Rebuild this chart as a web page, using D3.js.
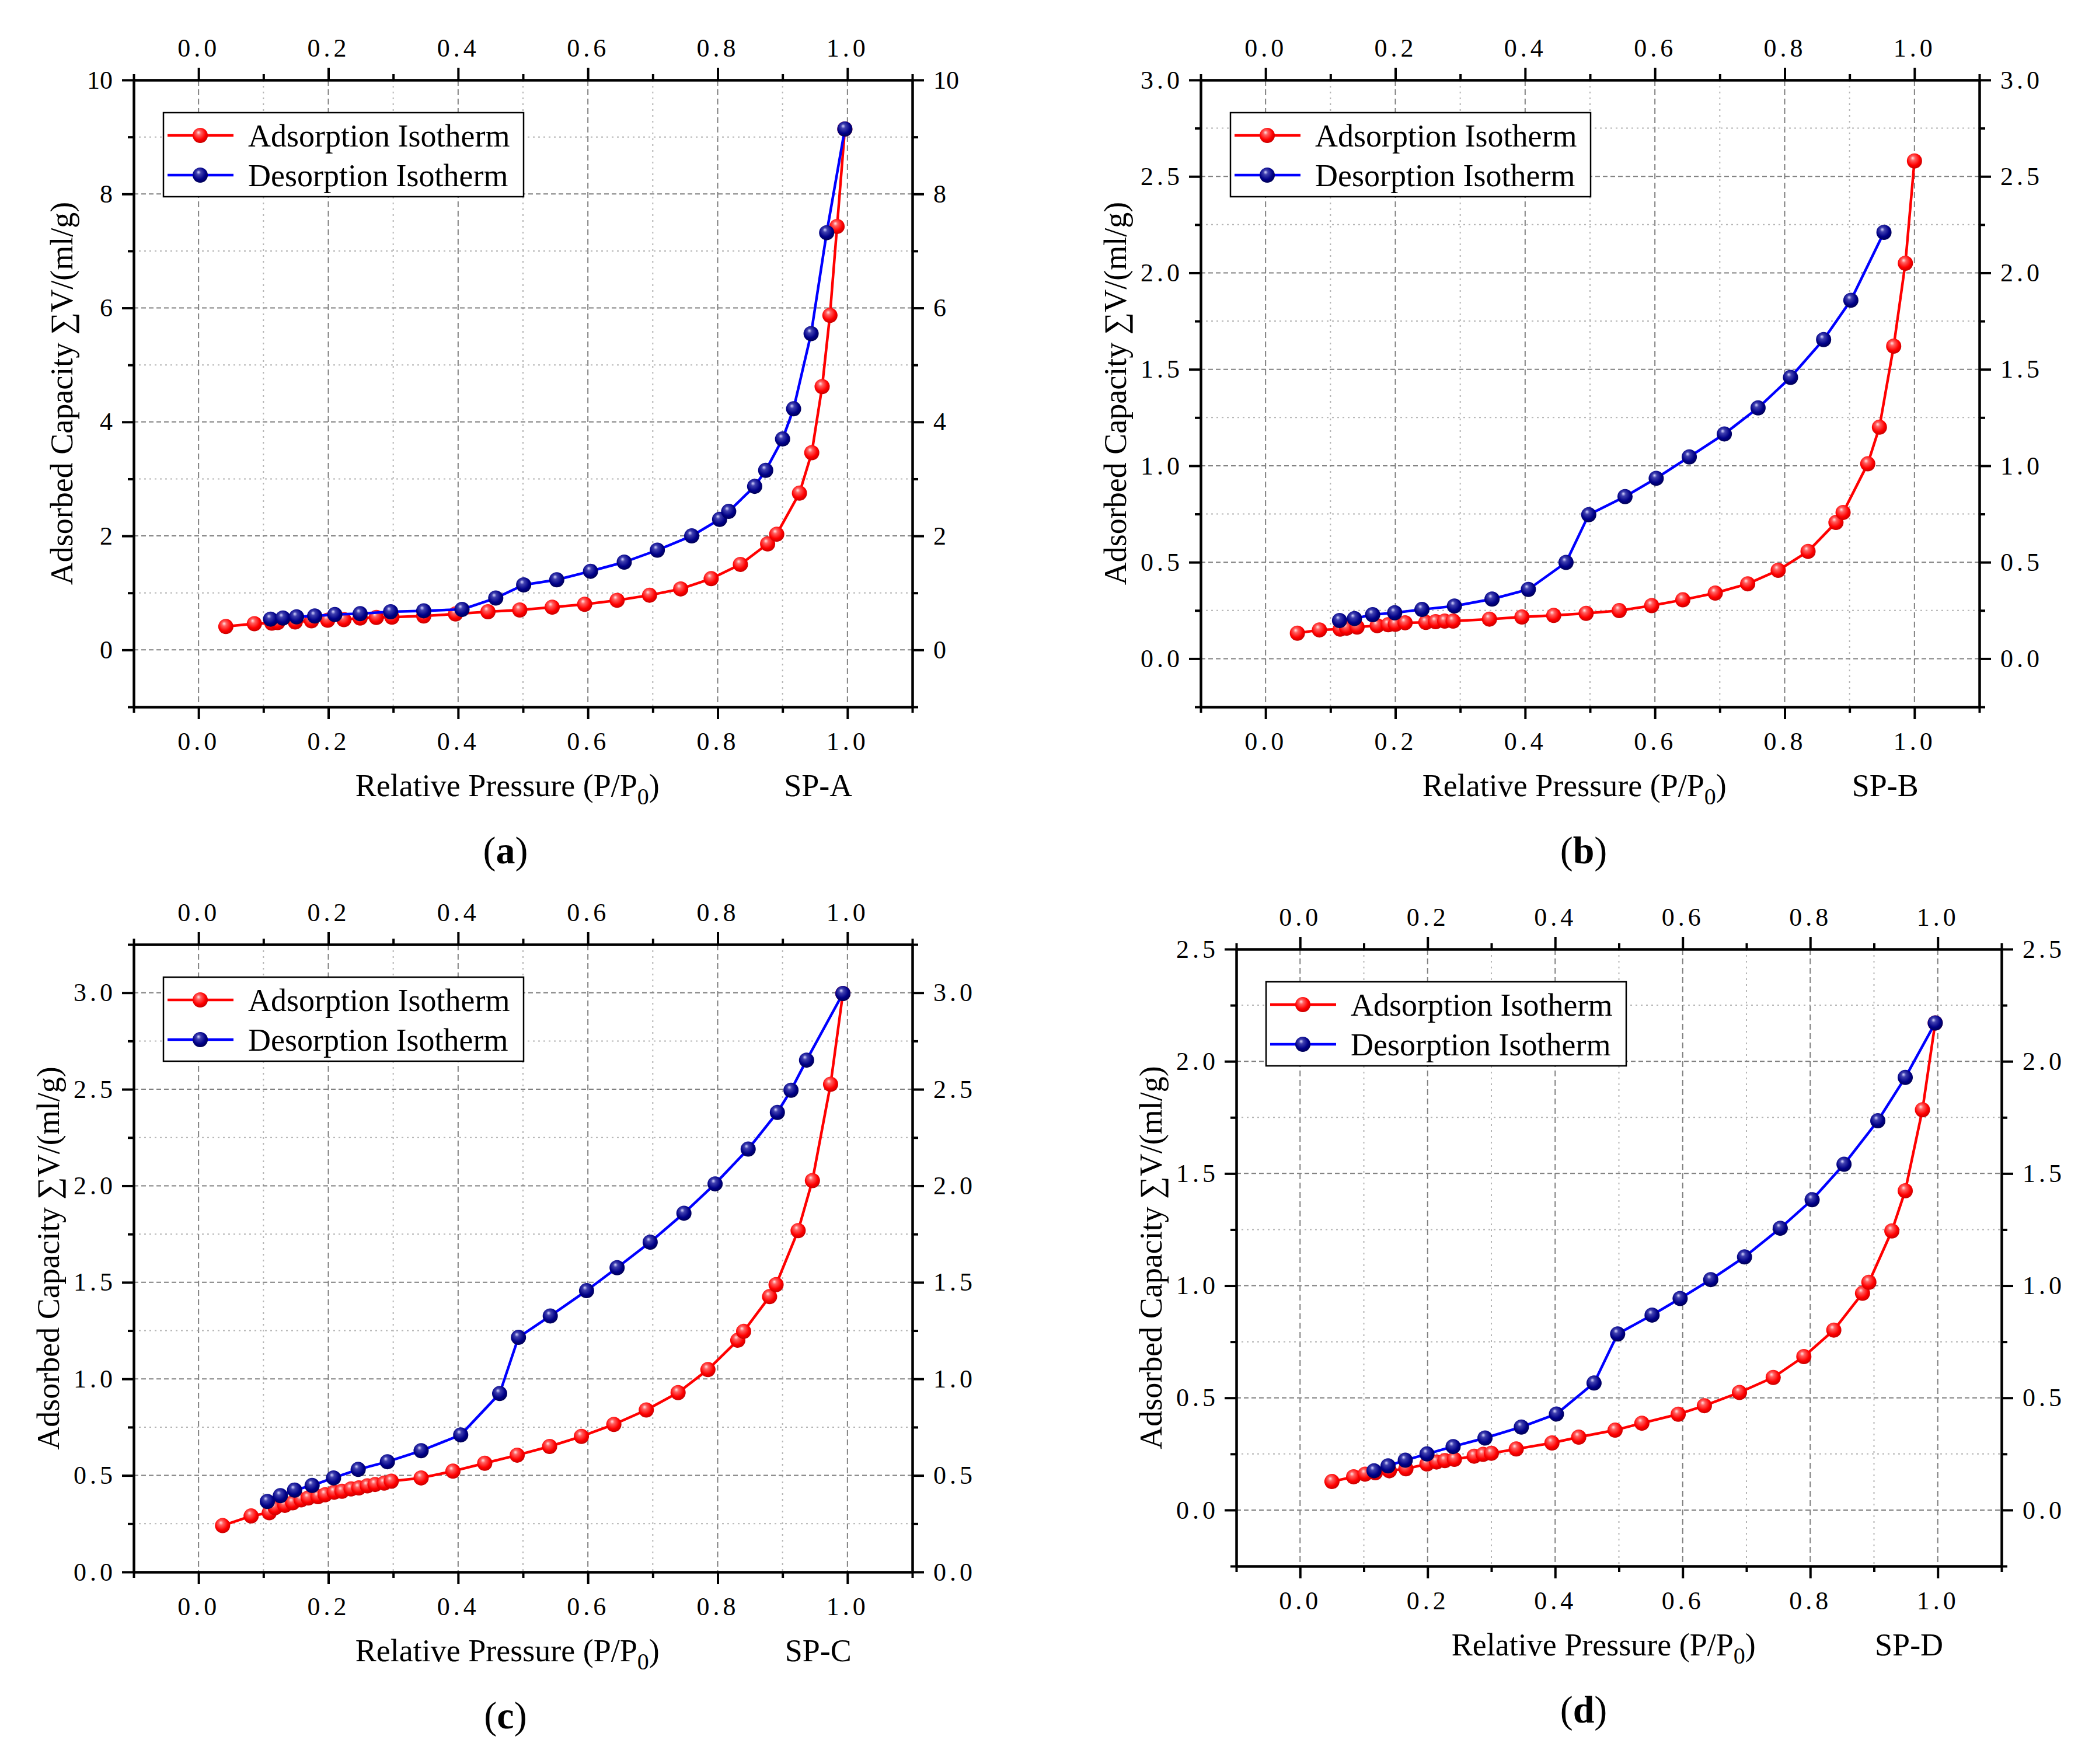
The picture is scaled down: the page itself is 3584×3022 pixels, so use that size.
<!DOCTYPE html>
<html>
<head>
<meta charset="utf-8">
<script src="https://cdn.jsdelivr.net/npm/d3@7"></script>
<style>
  body { margin: 0; background: #fff; }
  text { font-family: "Liberation Serif", "Times New Roman", serif; fill: #000; }
  .axis path, .axis line { stroke: #000; stroke-width: 4; }
</style>
</head>
<body>
<svg id="chart"></svg>
<script>
//************************************************************************
// page size
//************************************************************************
var svgWidth = 3584;
var svgHeight = 3022;

//************************************************************************
// tick values and labels
//************************************************************************
var xMajor = [0, 0.2, 0.4, 0.6, 0.8, 1.0];
var xMinor = [-0.1, 0.1, 0.3, 0.5, 0.7, 0.9, 1.1];

var yMajorA = [0, 2, 4, 6, 8, 10];
var yMinorA = [-1, 1, 3, 5, 7, 9];
var yMajorB = [0, 0.5, 1.0, 1.5, 2.0, 2.5, 3.0];
var yMinorB = [-0.25, 0.25, 0.75, 1.25, 1.75, 2.25, 2.75];
var yMajorC = [0, 0.5, 1.0, 1.5, 2.0, 2.5, 3.0];
var yMinorC = [0.25, 0.75, 1.25, 1.75, 2.25, 2.75, 3.25];
var yMajorD = [0, 0.5, 1.0, 1.5, 2.0, 2.5];
var yMinorD = [-0.25, 0.25, 0.75, 1.25, 1.75, 2.25];

var seriesNames = ["Adsorption Isotherm", "Desorption Isotherm"];
var sampleNames = ["SP-A", "SP-B", "SP-C", "SP-D"];
var captions = ["a", "b", "c", "d"];

//************************************************************************
// data: relative pressure (x) and volume (y)
//************************************************************************
// SP-A
var adsXA = [0.042, 0.086, 0.113, 0.122, 0.149, 0.174, 0.199, 0.224, 0.249, 0.274, 0.298, 0.347, 0.396, 0.446, 0.495,
             0.545, 0.595, 0.645, 0.695, 0.743, 0.790, 0.835, 0.877, 0.891, 0.926, 0.945, 0.961, 0.973, 0.984, 0.996];
var adsYA = [0.41, 0.46, 0.47, 0.48, 0.49, 0.51, 0.52, 0.53, 0.56, 0.57, 0.575, 0.595, 0.63, 0.67, 0.70,
             0.75, 0.80, 0.87, 0.96, 1.07, 1.25, 1.50, 1.86, 2.03, 2.75, 3.46, 4.62, 5.87, 7.43, 9.14];
var desXA = [0.111, 0.130, 0.151, 0.179, 0.210, 0.249, 0.296, 0.347, 0.406, 0.458, 0.501, 0.552, 0.604, 0.656, 0.707,
             0.760, 0.803, 0.817, 0.857, 0.874, 0.900, 0.917, 0.944, 0.968, 0.996];
var desYA = [0.54, 0.56, 0.58, 0.595, 0.62, 0.635, 0.67, 0.686, 0.71, 0.91, 1.14, 1.23, 1.38, 1.54, 1.75,
             2.00, 2.29, 2.43, 2.87, 3.15, 3.70, 4.23, 5.55, 7.32, 9.14];

// SP-B
var adsXB = [0.049, 0.083, 0.115, 0.125, 0.141, 0.172, 0.189, 0.200, 0.215, 0.247, 0.262, 0.276, 0.289, 0.345, 0.395,
             0.444, 0.494, 0.545, 0.595, 0.643, 0.693, 0.743, 0.790, 0.836, 0.879, 0.890, 0.928, 0.946, 0.968, 0.986, 1.000];
var adsYB = [0.132, 0.149, 0.153, 0.158, 0.164, 0.171, 0.176, 0.178, 0.186, 0.188, 0.192, 0.195, 0.195, 0.205, 0.216,
             0.224, 0.235, 0.249, 0.275, 0.305, 0.340, 0.388, 0.458, 0.556, 0.706, 0.758, 1.01, 1.20, 1.62, 2.05, 2.58];
var desXB = [0.114, 0.137, 0.165, 0.199, 0.241, 0.291, 0.349, 0.405, 0.463, 0.498, 0.554, 0.602, 0.653, 0.707, 0.759,
             0.809, 0.860, 0.902, 0.953];
var desYB = [0.198, 0.208, 0.228, 0.238, 0.255, 0.273, 0.309, 0.359, 0.499, 0.746, 0.840, 0.935, 1.046, 1.165, 1.300,
             1.458, 1.654, 1.858, 2.21];

// SP-C
var adsXC = [0.037, 0.081, 0.109, 0.118, 0.133, 0.145, 0.158, 0.169, 0.184, 0.195, 0.209, 0.221, 0.235, 0.247, 0.260,
             0.272, 0.286, 0.297, 0.343, 0.392, 0.441, 0.491, 0.541, 0.590, 0.640, 0.690, 0.739, 0.785, 0.831, 0.840,
             0.880, 0.890, 0.924, 0.946, 0.974, 0.993];
var adsYC = [0.240, 0.290, 0.307, 0.333, 0.345, 0.358, 0.373, 0.383, 0.390, 0.400, 0.413, 0.418, 0.430, 0.435, 0.446,
             0.453, 0.460, 0.470, 0.487, 0.522, 0.563, 0.605, 0.650, 0.702, 0.764, 0.839, 0.929, 1.048, 1.200, 1.246,
             1.426, 1.488, 1.768, 2.027, 2.526, 2.996];
var desXC = [0.106, 0.126, 0.148, 0.175, 0.208, 0.246, 0.291, 0.343, 0.404, 0.464, 0.493, 0.542, 0.598, 0.645, 0.696,
             0.748, 0.796, 0.847, 0.892, 0.913, 0.937, 0.993];
var desYC = [0.365, 0.395, 0.424, 0.448, 0.487, 0.531, 0.571, 0.628, 0.710, 0.924, 1.215, 1.326, 1.457, 1.576, 1.708,
             1.858, 2.010, 2.190, 2.380, 2.495, 2.651, 2.996];

// SP-D
var adsXD = [0.050, 0.084, 0.102, 0.118, 0.140, 0.166, 0.199, 0.214, 0.227, 0.242, 0.273, 0.287, 0.300, 0.339, 0.395,
             0.437, 0.494, 0.536, 0.593, 0.634, 0.689, 0.742, 0.790, 0.837, 0.882, 0.892, 0.928, 0.949, 0.976, 0.996];
var adsYD = [0.127, 0.148, 0.160, 0.166, 0.175, 0.184, 0.205, 0.214, 0.220, 0.226, 0.240, 0.248, 0.253, 0.272, 0.299,
             0.325, 0.356, 0.387, 0.427, 0.465, 0.524, 0.591, 0.684, 0.802, 0.966, 1.015, 1.244, 1.423, 1.784, 2.171];
var desXD = [0.116, 0.138, 0.165, 0.199, 0.240, 0.290, 0.347, 0.402, 0.461, 0.498, 0.552, 0.596, 0.644, 0.697, 0.753,
             0.803, 0.853, 0.906, 0.949, 0.996];
var desYD = [0.175, 0.197, 0.222, 0.250, 0.283, 0.321, 0.370, 0.428, 0.566, 0.785, 0.869, 0.943, 1.027, 1.128, 1.256,
             1.383, 1.541, 1.735, 1.928, 2.171];

//************************************************************************
// panel layout
//************************************************************************
var panels = [
  { left: 229,  top: 137,  width: 1334, height: 1074, yDomain: [-1, 10],    yMajor: yMajorA, yMinor: yMinorA,
    yFormat: d3.format("d"),   ads: d3.zip(adsXA, adsYA), des: d3.zip(desXA, desYA), sample: sampleNames[0], caption: captions[0], capX: 866 },
  { left: 2057, top: 137,  width: 1334, height: 1074, yDomain: [-0.25, 3.0], yMajor: yMajorB, yMinor: yMinorB,
    yFormat: d3.format(".1f"), ads: d3.zip(adsXB, adsYB), des: d3.zip(desXB, desYB), sample: sampleNames[1], caption: captions[1], capX: 2713 },
  { left: 229,  top: 1618, width: 1334, height: 1075, yDomain: [0, 3.25],    yMajor: yMajorC, yMinor: yMinorC,
    yFormat: d3.format(".1f"), ads: d3.zip(adsXC, adsYC), des: d3.zip(desXC, desYC), sample: sampleNames[2], caption: captions[2], capX: 866 },
  { left: 2118, top: 1626, width: 1311, height: 1057, yDomain: [-0.25, 2.5], yMajor: yMajorD, yMinor: yMinorD,
    yFormat: d3.format(".1f"), ads: d3.zip(adsXD, adsYD), des: d3.zip(desXD, desYD), sample: sampleNames[3], caption: captions[3], capX: 2713 }
];

var seriesStyle = [
  { line: "#ff0000", fill: "url(#ballRed)" },
  { line: "#0000ff", fill: "url(#ballNavy)" }
];

//************************************************************************
// create svg element
//************************************************************************
var svg = d3.select("#chart")
  .attr("width", svgWidth)
  .attr("height", svgHeight)
  .attr("viewBox", `0 0 ${svgWidth} ${svgHeight}`);

svg.append("rect").attr("width", svgWidth).attr("height", svgHeight).attr("fill", "#fff");

// shaded ball markers
var defs = svg.append("defs");
function ballGradient(id, c0, c1, c2, c3) {
  var gr = defs.append("radialGradient").attr("id", id)
    .attr("cx", "45%").attr("cy", "40%").attr("r", "60%")
    .attr("fx", "38%").attr("fy", "30%");
  gr.append("stop").attr("offset", "0%").attr("stop-color", c0);
  gr.append("stop").attr("offset", "25%").attr("stop-color", c1);
  gr.append("stop").attr("offset", "70%").attr("stop-color", c2);
  gr.append("stop").attr("offset", "100%").attr("stop-color", c3);
}
ballGradient("ballRed", "#ffe6e6", "#ff6060", "#ff0000", "#c80000");
ballGradient("ballNavy", "#d8d8ff", "#4040b0", "#000088", "#000055");

var fmtX = d3.format(".1f");
var tickFont = 44;
var labelFont = 54;
var markerR = 13;

function styleTicks(sel, spaced) {
  sel.selectAll("text")
    .style("font-size", tickFont + "px")
    .style("letter-spacing", spaced ? "6px" : "0px");
}

//************************************************************************
// draw one panel
//************************************************************************
function drawPanel(p) {
  var g = svg.append("g").attr("transform", `translate(${p.left}, ${p.top})`);

  var x = d3.scaleLinear().domain([-0.1, 1.1]).range([0, p.width]);
  var y = d3.scaleLinear().domain(p.yDomain).range([p.height, 0]);

  // grid lines
  var grid = g.append("g");
  var eps = 1e-6;
  var innerX = v => v > -0.1 + eps && v < 1.1 - eps;
  var innerY = v => v > p.yDomain[0] + eps && v < p.yDomain[1] - eps;

  grid.selectAll(".vminor").data(xMinor.filter(innerX)).enter().append("line")
    .attr("x1", d => x(d)).attr("x2", d => x(d)).attr("y1", 0).attr("y2", p.height)
    .attr("stroke", "#b4b4b4").attr("stroke-width", 2).attr("stroke-dasharray", "3,7");
  grid.selectAll(".vmajor").data(xMajor.filter(innerX)).enter().append("line")
    .attr("x1", d => x(d)).attr("x2", d => x(d)).attr("y1", 0).attr("y2", p.height)
    .attr("stroke", "#808080").attr("stroke-width", 2).attr("stroke-dasharray", "10,6");
  grid.selectAll(".hminor").data(p.yMinor.filter(innerY)).enter().append("line")
    .attr("x1", 0).attr("x2", p.width).attr("y1", d => y(d)).attr("y2", d => y(d))
    .attr("stroke", "#b4b4b4").attr("stroke-width", 2).attr("stroke-dasharray", "3,6");
  grid.selectAll(".hmajor").data(p.yMajor.filter(innerY)).enter().append("line")
    .attr("x1", 0).attr("x2", p.width).attr("y1", d => y(d)).attr("y2", d => y(d))
    .attr("stroke", "#808080").attr("stroke-width", 2).attr("stroke-dasharray", "8,5");

  // axes: minor ticks without labels, then major ticks with labels
  var spacedY = p.yFormat(0.5).indexOf(".") >= 0;

  g.append("g").attr("class", "axis").attr("transform", `translate(0, ${p.height})`)
    .call(d3.axisBottom(x).tickValues(xMinor).tickSize(10).tickSizeOuter(0).tickFormat(""));
  g.append("g").attr("class", "axis").attr("transform", `translate(0, ${p.height})`)
    .call(d3.axisBottom(x).tickValues(xMajor).tickSize(21).tickSizeOuter(0).tickPadding(22).tickFormat(fmtX))
    .call(styleTicks, true);

  g.append("g").attr("class", "axis")
    .call(d3.axisTop(x).tickValues(xMinor).tickSize(10).tickSizeOuter(0).tickFormat(""));
  g.append("g").attr("class", "axis")
    .call(d3.axisTop(x).tickValues(xMajor).tickSize(21).tickSizeOuter(0).tickPadding(19).tickFormat(fmtX))
    .call(styleTicks, true);

  g.append("g").attr("class", "axis")
    .call(d3.axisLeft(y).tickValues(p.yMinor).tickSize(10).tickSizeOuter(0).tickFormat(""));
  var leftAxis = g.append("g").attr("class", "axis")
    .call(d3.axisLeft(y).tickValues(p.yMajor).tickSize(20).tickSizeOuter(0).tickPadding(spacedY ? 10 : 16).tickFormat(p.yFormat))
    .call(styleTicks, spacedY);

  g.append("g").attr("class", "axis").attr("transform", `translate(${p.width}, 0)`)
    .call(d3.axisRight(y).tickValues(p.yMinor).tickSize(10).tickSizeOuter(0).tickFormat(""));
  g.append("g").attr("class", "axis").attr("transform", `translate(${p.width}, 0)`)
    .call(d3.axisRight(y).tickValues(p.yMajor).tickSize(20).tickSizeOuter(0).tickPadding(16).tickFormat(p.yFormat))
    .call(styleTicks, spacedY);

  // series: adsorption first, desorption on top
  var line = d3.line().x(d => x(d[0])).y(d => y(d[1]));
  [p.ads, p.des].forEach(function (pts, i) {
    g.append("path").datum(pts)
      .attr("d", line)
      .attr("fill", "none")
      .attr("stroke", seriesStyle[i].line)
      .attr("stroke-width", 4.5)
      .attr("stroke-linejoin", "round");
    g.append("g").selectAll("circle").data(pts).enter().append("circle")
      .attr("cx", d => x(d[0]))
      .attr("cy", d => y(d[1]))
      .attr("r", markerR)
      .attr("fill", seriesStyle[i].fill);
  });

  // legend
  var legend = g.append("g").attr("transform", "translate(51, 56)");
  legend.append("rect").attr("width", 617).attr("height", 144)
    .attr("fill", "#fff").attr("stroke", "#000").attr("stroke-width", 2.5);
  seriesNames.forEach(function (name, i) {
    var ly = 39 + i * 68;
    legend.append("line").attr("x1", 7).attr("x2", 120).attr("y1", ly).attr("y2", ly)
      .attr("stroke", seriesStyle[i].line).attr("stroke-width", 4.5);
    legend.append("circle").attr("cx", 63).attr("cy", ly).attr("r", markerR)
      .attr("fill", seriesStyle[i].fill);
    legend.append("text").attr("x", 145).attr("y", ly + 19)
      .style("font-size", labelFont + "px")
      .text(name);
  });

  // x label
  var xl = g.append("text")
    .attr("x", p.width * 0.48).attr("y", p.height + 153)
    .attr("text-anchor", "middle")
    .style("font-size", labelFont + "px");
  xl.append("tspan").text("Relative Pressure (P/P");
  xl.append("tspan").attr("dy", 14).style("font-size", "40px").text("0");
  xl.append("tspan").attr("dy", -14).text(")");

  g.append("text")
    .attr("x", x(0.955)).attr("y", p.height + 153)
    .attr("text-anchor", "middle")
    .style("font-size", labelFont + "px")
    .text(p.sample);

  // y label, placed left of the tick labels
  var bb = leftAxis.node().getBBox();
  var cx = bb.x - 44;
  g.append("text")
    .attr("transform", `translate(${cx + 19}, ${p.height / 2}) rotate(-90)`)
    .attr("text-anchor", "middle")
    .style("font-size", labelFont + "px")
    .text("Adsorbed Capacity \u2211V/(ml/g)");

  // caption
  var cap = svg.append("text")
    .attr("x", p.capX).attr("y", p.top + p.height + 268)
    .attr("text-anchor", "middle")
    .style("font-size", "66px");
  cap.append("tspan").text("(");
  cap.append("tspan").style("font-weight", "bold").text(p.caption);
  cap.append("tspan").text(")");
}

panels.forEach(drawPanel);
</script>
</body>
</html>
